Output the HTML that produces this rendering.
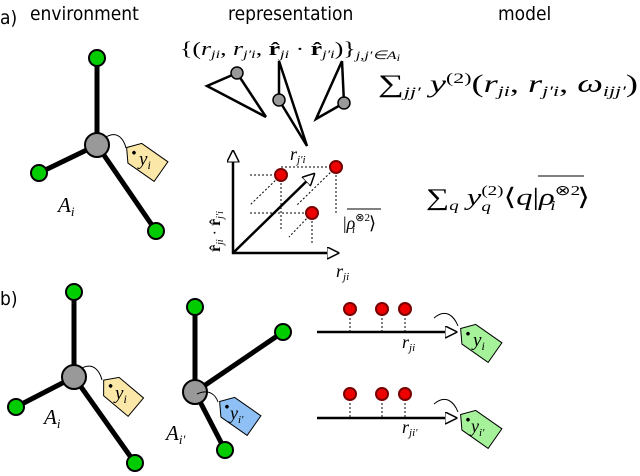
<!DOCTYPE html>
<html><head><meta charset="utf-8"><style>
body{margin:0;background:#fff}
svg{display:block}
.h{font-family:"DejaVu Sans Condensed","Liberation Sans Narrow","Liberation Sans",sans-serif;font-size:19px}
.m{font-family:"Liberation Serif",serif;font-style:italic}
.r{font-family:"Liberation Serif",serif;font-style:normal}
</style></head><body>
<svg width="640" height="476" viewBox="0 0 640 476" xmlns="http://www.w3.org/2000/svg">
<defs>
<marker id="ah" viewBox="0 0 10 10" refX="9" refY="5" markerWidth="5" markerHeight="5" orient="auto" markerUnits="strokeWidth"><path d="M0,0 L10,5 L0,10 z" fill="#fff" stroke="#000" stroke-width="1.2"/></marker>
<g id="tag"><polygon points="-20,0 -10,-12 22,-12 22,12 -10,12" stroke="#000" stroke-width="1"/><circle cx="-11" cy="0" r="1.8" fill="#000"/></g>
</defs>
<text class="h" x="0" y="24">a)</text>
<text class="h" x="30" y="20">environment</text>
<text class="h" x="228" y="20">representation</text>
<text class="h" x="498" y="20">model</text>
<text class="h" x="0" y="305">b)</text>

<!-- star a -->
<g stroke="#000" stroke-width="5" stroke-linecap="round">
<line x1="97" y1="145" x2="97" y2="58"/><line x1="97" y1="145" x2="39" y2="173"/><line x1="97" y1="145" x2="156" y2="231"/></g>
<g stroke="#000" stroke-width="2"><circle cx="97" cy="58" r="8" fill="#0c0"/><circle cx="39" cy="173" r="8" fill="#0c0"/><circle cx="156" cy="231" r="8" fill="#0c0"/><circle cx="97" cy="145" r="12" fill="#999"/></g>
<path d="M106,137 C118,130 124,140 126,148" fill="none" stroke="#000" stroke-width="1"/>
<g transform="translate(143,159) rotate(35)"><use href="#tag" fill="#fbe7a8"/><text class="m" x="-4" y="6" font-size="19" transform="rotate(-35 0 0)">y<tspan font-size="12" dy="4">i</tspan></text></g>
<text class="m" x="58" y="212" font-size="21">A<tspan font-size="13" dy="4">i</tspan></text>

<!-- set notation -->
<text class="m" x="180" y="55" font-size="19" textLength="220" lengthAdjust="spacingAndGlyphs"><tspan class="r">{(</tspan>r<tspan font-size="12" dy="3">ji</tspan><tspan dy="-3" class="r">, </tspan>r<tspan font-size="12" dy="3">j′i</tspan><tspan dy="-3" class="r">, </tspan><tspan class="r" font-weight="bold">r̂</tspan><tspan font-size="12" dy="3">ji</tspan><tspan dy="-3" class="r"> · </tspan><tspan class="r" font-weight="bold">r̂</tspan><tspan font-size="12" dy="3">j′i</tspan><tspan dy="-3" class="r">)}</tspan><tspan font-size="12" dy="4">j,j′∈A</tspan><tspan font-size="9" dy="2">i</tspan></text>

<!-- triangles -->
<g fill="none" stroke="#000" stroke-width="2.5" stroke-linejoin="miter">
<polyline points="237,73 207,86 266,117"/><line x1="237" y1="73" x2="266" y2="117"/>
<polyline points="279,61 279,100 307,146 279,61"/>
<polyline points="342,61 344,103 316,119 342,61"/></g>
<g stroke="#000" stroke-width="1.5" fill="#999"><circle cx="237" cy="73" r="6"/><circle cx="279" cy="100" r="6"/><circle cx="344" cy="103" r="6"/></g>

<text class="m" x="378" y="92" font-size="25" textLength="260" lengthAdjust="spacingAndGlyphs"><tspan class="r">∑</tspan><tspan font-size="15" dy="5">jj′</tspan><tspan dy="-5"> y</tspan><tspan class="r" font-size="15" dy="-9">(2)</tspan><tspan class="r" dy="9">(</tspan>r<tspan font-size="15" dy="4">ji</tspan><tspan class="r" dy="-4">, </tspan>r<tspan font-size="15" dy="4">j′i</tspan><tspan class="r" dy="-4">, </tspan>ω<tspan font-size="15" dy="4">ijj′</tspan><tspan class="r" dy="-4">)</tspan></text>

<!-- plot -->
<g stroke="#000" stroke-width="1" stroke-dasharray="2,2" fill="none">
<line x1="250" y1="175" x2="281" y2="175"/><line x1="281" y1="175" x2="281" y2="230"/><line x1="281" y1="175" x2="250" y2="205"/>
<line x1="281" y1="167" x2="336" y2="167"/><line x1="336" y1="167" x2="336" y2="213"/><line x1="336" y1="167" x2="297" y2="205"/>
<line x1="250" y1="213" x2="312" y2="213"/><line x1="312" y1="213" x2="312" y2="243"/><line x1="312" y1="213" x2="289" y2="237"/></g>
<g stroke="#000" stroke-width="2.5" fill="none">
<line x1="233" y1="254" x2="233" y2="151" marker-end="url(#ah)"/>
<line x1="232" y1="253" x2="338" y2="253" marker-end="url(#ah)"/>
<line x1="233" y1="253" x2="314" y2="174" marker-end="url(#ah)"/></g>
<g fill="#e00" stroke="#700" stroke-width="2"><circle cx="281" cy="175" r="6"/><circle cx="336" cy="167" r="6"/><circle cx="312" cy="213" r="6"/></g>
<text class="m" x="290" y="160" font-size="18">r<tspan font-size="11" dy="3">j′i</tspan></text>
<text class="m" x="343" y="229" font-size="18"><tspan class="r">|</tspan>ρ<tspan font-size="11" dy="-8" class="r">⊗2</tspan><tspan font-size="11" dx="-18" dy="12">i</tspan><tspan class="r" dx="14" dy="-4">⟩</tspan></text>
<line x1="347" y1="209" x2="381" y2="209" stroke="#000" stroke-width="1"/>
<text class="m" font-size="16" transform="translate(220,252) rotate(-90)"><tspan class="r" font-weight="bold">r̂</tspan><tspan font-size="10" dy="3">ji</tspan><tspan class="r" dy="-3"> · </tspan><tspan class="r" font-weight="bold">r̂</tspan><tspan font-size="10" dy="3">j′i</tspan></text>
<text class="m" x="336" y="277" font-size="18">r<tspan font-size="11" dy="3">ji</tspan></text>

<text class="m" x="426" y="205" font-size="24" textLength="164" lengthAdjust="spacingAndGlyphs"><tspan class="r">∑</tspan><tspan font-size="14" dy="5">q</tspan><tspan dy="-5"> y</tspan><tspan font-size="14" dy="6">q</tspan><tspan class="r" font-size="14" dx="-7" dy="-16">(2)</tspan><tspan class="r" dy="10">⟨</tspan>q<tspan class="r">|</tspan>ρ<tspan font-size="14" dy="-10" class="r">⊗2</tspan><tspan font-size="14" dx="-22" dy="15">i</tspan><tspan class="r" dx="16" dy="-5">⟩</tspan></text>
<line x1="538" y1="176" x2="584" y2="176" stroke="#000" stroke-width="1"/>

<!-- star b1 -->
<g stroke="#000" stroke-width="5" stroke-linecap="round">
<line x1="74" y1="377" x2="74" y2="292"/><line x1="74" y1="377" x2="16" y2="407"/><line x1="74" y1="377" x2="135" y2="463"/></g>
<g stroke="#000" stroke-width="2"><circle cx="74" cy="292" r="8" fill="#0c0"/><circle cx="16" cy="407" r="8" fill="#0c0"/><circle cx="135" cy="463" r="8" fill="#0c0"/><circle cx="74" cy="377" r="12" fill="#999"/></g>
<path d="M82,368 C94,362 100,372 102,380" fill="none" stroke="#000" stroke-width="1"/>
<g transform="translate(119,393) rotate(40)"><use href="#tag" fill="#fbe7a8"/><text class="m" x="-4" y="6" font-size="19" transform="rotate(-40 0 0)">y<tspan font-size="12" dy="4">i</tspan></text></g>
<text class="m" x="44" y="424" font-size="21">A<tspan font-size="13" dy="4">i</tspan></text>

<!-- star b2 -->
<g stroke="#000" stroke-width="5" stroke-linecap="round">
<line x1="195" y1="392" x2="195" y2="307"/><line x1="195" y1="392" x2="283" y2="332"/><line x1="195" y1="392" x2="225" y2="450"/></g>
<g stroke="#000" stroke-width="2"><circle cx="195" cy="307" r="8" fill="#0c0"/><circle cx="283" cy="332" r="8" fill="#0c0"/><circle cx="225" cy="450" r="8" fill="#0c0"/><circle cx="195" cy="392" r="12" fill="#999"/></g>
<path d="M197,394 C210,388 216,396 218,402" fill="none" stroke="#000" stroke-width="1"/>
<g transform="translate(236,413) rotate(35)"><use href="#tag" fill="#8ec0f5"/><text class="m" x="-6" y="6" font-size="18" transform="rotate(-35 0 0)">y<tspan font-size="11" dy="4">i′</tspan></text></g>
<text class="m" x="166" y="440" font-size="21">A<tspan font-size="13" dy="4">i′</tspan></text>

<!-- arrows b -->
<g stroke="#000" stroke-width="1" stroke-dasharray="2,2"><line x1="350" y1="310" x2="350" y2="332"/><line x1="382" y1="310" x2="382" y2="332"/><line x1="405" y1="310" x2="405" y2="332"/>
<line x1="350" y1="395" x2="350" y2="418"/><line x1="382" y1="395" x2="382" y2="418"/><line x1="405" y1="395" x2="405" y2="418"/></g>
<g stroke="#000" stroke-width="2.5"><line x1="317" y1="332" x2="456" y2="332" marker-end="url(#ah)"/><line x1="317" y1="418" x2="456" y2="418" marker-end="url(#ah)"/></g>
<g fill="#e00" stroke="#700" stroke-width="2"><circle cx="350" cy="309" r="6"/><circle cx="382" cy="309" r="6"/><circle cx="405" cy="309" r="6"/><circle cx="350" cy="394" r="6"/><circle cx="382" cy="394" r="6"/><circle cx="405" cy="394" r="6"/></g>
<text class="m" x="402" y="348" font-size="18">r<tspan font-size="11" dy="3">ji</tspan></text>
<text class="m" x="402" y="433" font-size="18">r<tspan font-size="11" dy="3">ji′</tspan></text>
<path d="M434,318 C446,308 454,316 458,326" fill="none" stroke="#000" stroke-width="1"/>
<path d="M434,404 C446,394 454,402 458,412" fill="none" stroke="#000" stroke-width="1"/>
<g transform="translate(477,340) rotate(35)"><use href="#tag" fill="#a5f29a"/><text class="m" x="-4" y="6" font-size="19" transform="rotate(-35 0 0)">y<tspan font-size="12" dy="4">i</tspan></text></g>
<g transform="translate(477,426) rotate(35)"><use href="#tag" fill="#a5f29a"/><text class="m" x="-6" y="6" font-size="18" transform="rotate(-35 0 0)">y<tspan font-size="11" dy="4">i′</tspan></text></g>
</svg>
</body></html>
